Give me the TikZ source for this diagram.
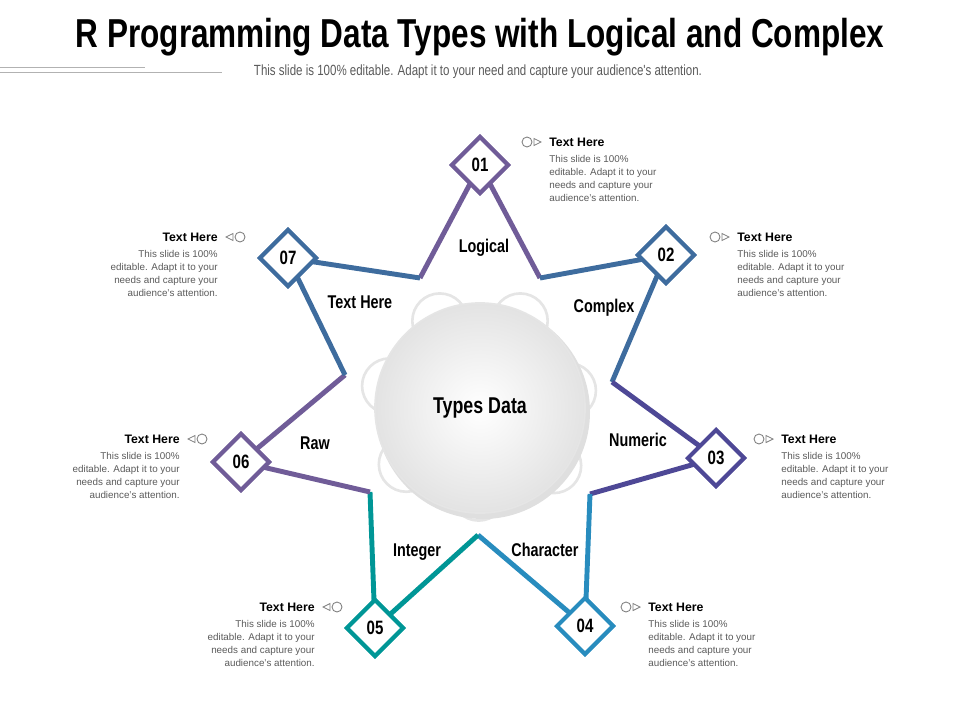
\documentclass[tikz,border=0pt]{standalone}
\usepackage{fontspec}
\setmainfont{Liberation Sans}
\newfontfamily\narrowfont[FakeStretch=0.78]{Liberation Sans}
\usetikzlibrary{shapes.geometric,calc,positioning}
\definecolor{lavendel}{RGB}{112,92,152}
\definecolor{stahl}{RGB}{62,108,158}
\definecolor{indigo}{RGB}{78,72,150}
\definecolor{himmel}{RGB}{40,140,190}
\definecolor{petrol}{RGB}{0,150,150}
\definecolor{textgrau}{RGB}{90,90,90}
\tikzset{
  raute/.style={diamond, draw=#1, line width=2.3pt, fill=white, minimum size=1.15cm, inner sep=0pt, font=\narrowfont\bfseries\fontsize{11}{12}\selectfont},
  kante/.style={draw=#1, line width=2.8pt},
  blatt/.style={font=\narrowfont\bfseries\fontsize{10.5}{12}\selectfont},
  kopf/.style={font=\bfseries\fontsize{7}{8}\selectfont},
  rumpf/.style={font=\fontsize{5.6}{7.4}\selectfont, text=textgrau, inner sep=0pt},
  huegel/.style={circle, fill=white, draw=gray!20, line width=1.5pt, minimum size=1.1cm}
}
\newcommand{\symbolik}[2]{%
  \draw[gray, line width=0.5pt] (#1) circle (5);
  \draw[gray, line width=0.5pt] ($(#1)+(#2*7,-3.5)$) -- ++(#2*7,3.5) -- ++(-#2*7,3.5) -- cycle;}
\newcommand{\bodytext}{This slide is 100\%\\ editable. Adapt it to your\\ needs and capture your\\ audience's attention.}
\begin{document}
\begin{tikzpicture}[x=0.02cm, y=-0.02cm]
\useasboundingbox (0,0) rectangle (960,720);
% title
\node[font=\narrowfont\bfseries\fontsize{23}{26}\selectfont] (titel) at (480,37) {R Programming Data Types with Logical and Complex};
\node[font=\narrowfont\fontsize{8.4}{9}\selectfont, text=textgrau] (sub) at (478,72) {This slide is 100\% editable. Adapt it to your need and capture your audience's attention.};
\draw[gray!60] (0,67) -- (145,67);
\draw[gray!60] (0,72) -- (222,72);

\coordinate (c) at (480,408);
\coordinate (i71) at (420,278);
\coordinate (i12) at (540,278);
\coordinate (i23) at (612,382);
\coordinate (i34) at (590,494);
\coordinate (i45) at (478,535);
\coordinate (i56) at (370,492);
\coordinate (i67) at (345,375);
\node[raute=lavendel] (d1) at (480,165) {01};
\node[raute=stahl] (d2) at (666,255) {02};
\node[raute=indigo] (d3) at (716,458) {03};
\node[raute=himmel] (d4) at (585,626) {04};
\node[raute=petrol] (d5) at (375,628) {05};
\node[raute=lavendel] (d6) at (241,462) {06};
\node[raute=stahl] (d7) at (288,258) {07};

% bumps
\foreach \p in {i71,i12,i23,i34,i45,i56,i67}
  \node[huegel] at ($(\p)!0.33!(c)$) {};
% edges
\draw[kante=lavendel] (i71) -- (d1.center) -- (i12);
\draw[kante=stahl] (i12) -- (d2.center) -- (i23);
\draw[kante=indigo] (i23) -- (d3.center) -- (i34);
\draw[kante=himmel] (i34) -- (d4.center) -- (i45);
\draw[kante=petrol] (i45) -- (d5.center) -- (i56);
\draw[kante=lavendel] (i56) -- (d6.center) -- (i67);
\draw[kante=stahl] (i67) -- (d7.center) -- (i71);
% centre
\fill[gray!25] ($(c)+(3,4)$) circle (107);
\shade[inner color=white, outer color=gray!22] (c) circle (105);
\draw[gray!20, line width=1pt] (c) circle (105);
\node[font=\narrowfont\bfseries\fontsize{13}{15}\selectfont] (mitte) at (c) {Types Data};
% redraw diamonds on top
\foreach \n/\f/\t in {d1/lavendel/01,d2/stahl/02,d3/indigo/03,d4/himmel/04,d5/petrol/05,d6/lavendel/06,d7/stahl/07}
  \node[raute=\f] at (\n) {\t};

\node[blatt] (l1) at (484,248) {Logical};
\node[blatt] (l2) at (604,308) {Complex};
\node[blatt] (l3) at (638,440) {Numeric};
\node[blatt] (l4) at (545,550) {Character};
\node[blatt] (l5) at (417,552) {Integer};
\node[blatt] (l6) at (315,443) {Raw};
\node[blatt] (l7) at (360,302) {Text Here};

% texts right
\foreach \n/\x/\y in {t1/549/142, t2/737/237, t3/781/439, t4/648/607}{
  \node[kopf, anchor=west, inner sep=0pt] (\n) at (\x,\y) {Text Here};
  \node[rumpf, anchor=north west, align=left] at ($(\n.west)+(0,13)$) {\bodytext};
  \symbolik{$(\n.west)+(-22,0)$}{1}
}
% texts left
\foreach \n/\x/\y in {t7/218/237, t6/180/439, t5/315/607}{
  \node[kopf, anchor=east, inner sep=0pt] (\n) at (\x,\y) {Text Here};
  \node[rumpf, anchor=north east, align=right] at ($(\n.east)+(0,13)$) {\bodytext};
  \symbolik{$(\n.east)+(22,0)$}{-1}
}
\end{tikzpicture}
\end{document}
